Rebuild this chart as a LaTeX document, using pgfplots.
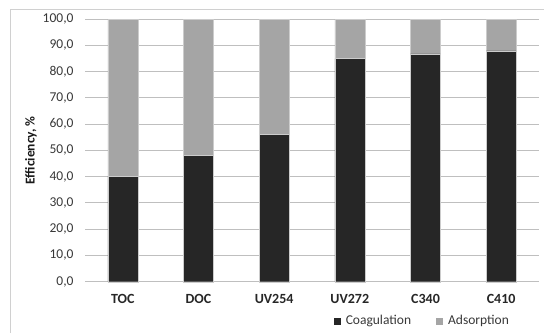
\documentclass[border=0pt]{standalone}
\usepackage{pgfplots}
\pgfplotsset{compat=1.18}
\usepackage{fontspec}
\setmainfont{Carlito}
\definecolor{coag}{HTML}{262626}
\definecolor{ads}{HTML}{A5A5A5}
\definecolor{grid}{HTML}{D9D9D9}
\definecolor{frame}{HTML}{D0D0D0}
\begin{document}
\begin{tikzpicture}[x=1pt,y=1pt]
\draw[frame, line width=0.8pt] (10,0) -- (10,324) -- (544,324);
\begin{axis}[
  at={(85pt,51.3pt)}, anchor=south west,
  scale only axis, width=454pt, height=262.7pt,
  ybar stacked, bar width=30pt,
  xmin=-0.5, xmax=5.5, ymin=0, ymax=100,
  xtick=data, xticklabels={TOC,DOC,UV254,UV272,C340,C410},
  ytick={0,10,...,100},
  axis line style={draw=none},
  major tick length=0pt,
  ymajorgrids, grid style={grid, line width=0.8pt},
  yticklabel style={/pgf/number format/fixed, /pgf/number format/fixed zerofill, /pgf/number format/precision=1, /pgf/number format/use comma, /pgf/number format/assume math mode=true,
    font=\fontsize{13.5}{15}\selectfont, text=black!78, xshift=-8pt},
  xticklabel style={font=\bfseries\fontsize{14}{16}\selectfont, text=black!85, yshift=-9pt},
  ylabel={Efficiency, \%},
  ylabel style={font=\bfseries\fontsize{13.5}{15}\selectfont, text=black!90, at={(axis description cs:-0.119,0.5)}, anchor=center, rotate=0},
  legend columns=2,
  legend style={draw=none, fill=none, at={(axis description cs:0.742,-0.1496)}, anchor=center,
    font=\fontsize{13.5}{15}\selectfont, text=black!78,
    /tikz/every even column/.append style={column sep=22pt}},
  legend image code/.code={\fill[#1, draw=none] (0pt,-3.5pt) rectangle (7pt,3.5pt); \path[draw=none, fill=none] (-1pt,0pt) rectangle (10pt,0.1pt);},
  clip=false,
]
\addplot+[fill=coag, draw=white!80!black, line width=0.4pt] coordinates {(0,40.1) (1,48.2) (2,56.1) (3,84.9) (4,86.7) (5,87.9)};
\addplot+[fill=ads, draw=white!80!black, line width=0.4pt] coordinates {(0,59.9) (1,51.8) (2,43.9) (3,15.1) (4,13.3) (5,12.1)};
\legend{Coagulation,Adsorption}
\end{axis}
\pgfresetboundingbox
\path (0,0) rectangle (544,333);
\end{tikzpicture}
\end{document}
